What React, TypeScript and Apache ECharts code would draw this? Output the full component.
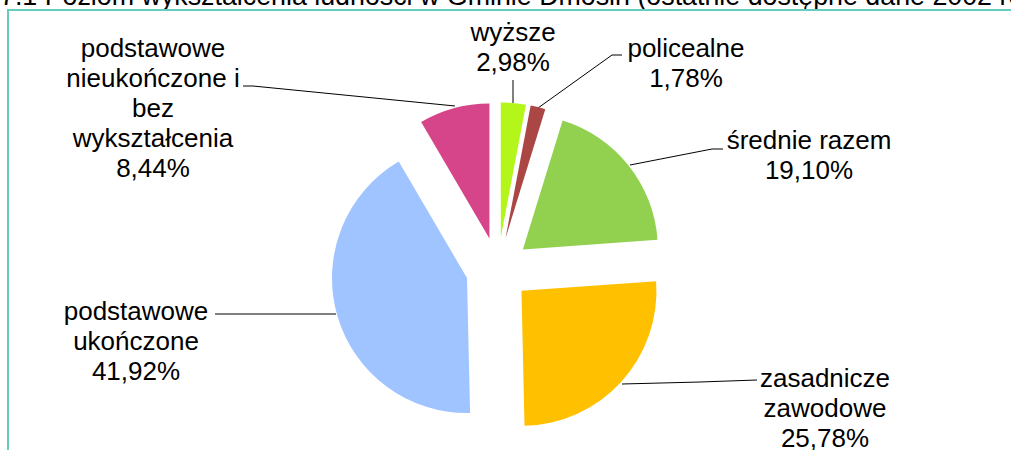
import React, { useEffect, useRef } from 'react';
import * as echarts from 'echarts';

const categories = [
  'wyższe',
  'policealne',
  'średnie razem',
  'zasadnicze zawodowe',
  'podstawowe ukończone',
  'podstawowe nieukończone i bez wykształcenia',
];
const labelTexts = [
  'wyższe',
  'policealne',
  'średnie razem',
  'zasadnicze\nzawodowe',
  'podstawowe\nukończone',
  'podstawowe\nnieukończone i\nbez\nwykształcenia',
];
const shares = [2.98, 1.78, 19.1, 25.78, 41.92, 8.44];
const colors = ['#b4f51a', '#aa4643', '#92d050', '#ffc000', '#a0c4ff', '#d6458a'];
const titleText = '7.1 Poziom wykształcenia ludności w Gminie Dmosin (ostatnie dostępne dane 2002 rok)';

// layout only: pie centre, radius, explosion distance, label block centres, leader lines
const CX = 497.8;
const CY = 269.3;
const RADIUS = 135;
const EXPLODE = 32;
const labelPos = [
  [513, 47],
  [686, 63],
  [809, 155],
  [825, 408],
  [136, 341],
  [153, 108],
];
const leaderLines = [
  [[513, 103], [513, 90], [513, 80]],
  [[538, 108], [612, 55], [622, 55]],
  [[630, 165], [712, 149], [723, 149]],
  [[622, 384], [700, 382], [757, 380]],
  [[336, 314], [260, 314], [215, 314]],
  [[455, 106], [253, 86], [243, 86]],
];

const fmt = (v: number) => v.toFixed(2).replace('.', ',') + '%';

export default function App() {
  const ref = useRef<HTMLDivElement>(null);
  useEffect(() => {
    if (!ref.current) return;
    const chart = echarts.init(ref.current, undefined, { renderer: 'svg' });
    const total = shares.reduce((a, b) => a + b, 0);
    let cum = 0;
    const series = shares.map((v, i) => {
      const mid = ((cum + v / 2) / total) * Math.PI * 2;
      cum += v;
      const center = [CX + EXPLODE * Math.sin(mid), CY - EXPLODE * Math.cos(mid)];
      return {
        type: 'pie',
        name: categories[i],
        center,
        radius: RADIUS,
        startAngle: 90,
        clockwise: true,
        silent: true,
        avoidLabelOverlap: false,
        emphasis: { disabled: true },
        data: shares.map((w, j) => ({
          value: w,
          name: categories[j],
          itemStyle: { color: j === i ? colors[j] : 'rgba(0,0,0,0)', borderWidth: 0 },
          label: { show: j === i },
          labelLine: { show: j === i },
        })),
        label: {
          position: 'outside',
          formatter: (p: any) => labelTexts[p.dataIndex] + '\n' + fmt(shares[p.dataIndex]),
          fontSize: 26,
          lineHeight: 30,
          color: '#000',
          fontFamily: '"Liberation Sans", Arial, sans-serif',
          align: 'center',
        },
        labelLine: { lineStyle: { color: '#000', width: 1 } },
        labelLayout: (params: any) => {
          const k = params.dataIndex;
          if (k !== i) return {};
          return {
            x: labelPos[k][0],
            y: labelPos[k][1],
            align: 'center',
            verticalAlign: 'middle',
            labelLinePoints: leaderLines[k],
          };
        },
      };
    });
    chart.setOption({
      animation: false,
      backgroundColor: '#ffffff',
      graphic: [
        {
          type: 'text',
          x: 0,
          y: -4.2,
          style: {
            text: titleText,
            fill: '#000',
            font: '26.8px "Liberation Sans", Arial, sans-serif',
            verticalAlign: 'middle',
            align: 'left',
          },
        },
        {
          type: 'rect',
          shape: { x: 8, y: 10, width: 1200, height: 600 },
          style: { fill: 'none', stroke: '#64cdc0', lineWidth: 2 },
        },
      ],
      series,
    });
    return () => chart.dispose();
  }, []);
  return (
    <div
      ref={ref}
      style={{ position: 'absolute', left: 0, top: 0, width: 1011, height: 450, background: '#fff' }}
    />
  );
}
